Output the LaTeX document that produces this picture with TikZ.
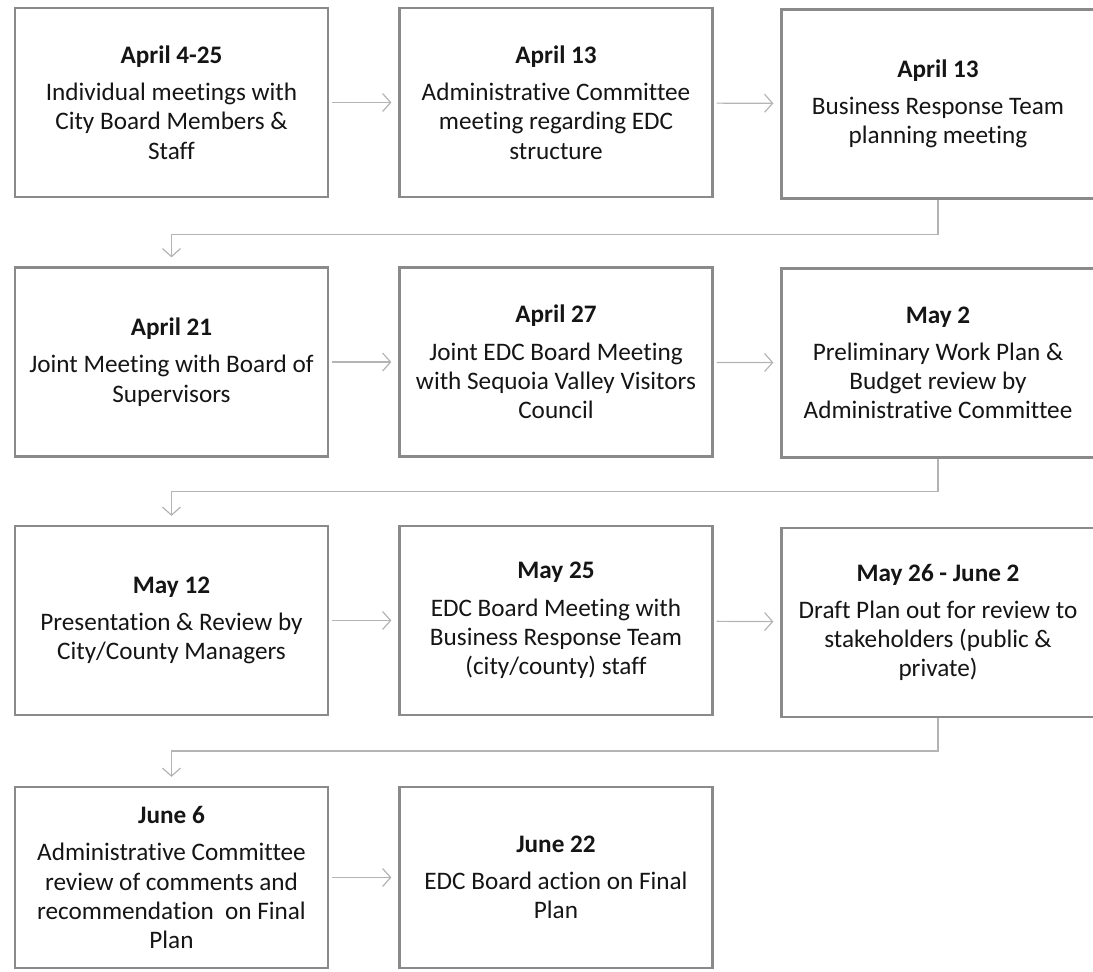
\documentclass[tikz,border=0pt]{standalone}
\usepackage{fontspec}
\setmainfont[Ligatures=NoCommon]{Carlito}
\usetikzlibrary{arrows.meta,positioning,calc}
\def\wLight{0.6pt}
\def\wRegular{1.1pt}
\definecolor{cFrame}{HTML}{8A8A8A}
\definecolor{cLink}{HTML}{B4B4B4}
\definecolor{cInk}{HTML}{151515}
\tikzset{
  plan/.style={every node/.style={align=center}},
  stagebox/.style={draw=cFrame, line width=\wRegular, fill=white, text=cInk,
    minimum width=156.5pt, minimum height=94.5pt, inner sep=2pt,
    font=\fontsize{12.6}{14.6}\selectfont},
  lastrow/.style={stagebox, minimum height=90.5pt},
  link/.style={draw=cLink, line width=\wLight, shorten >=3.5pt, shorten <=1.5pt,
    -{Straight Barb[length=4pt, width=9pt]}},
  turn/.style={draw=cLink, line width=\wLight, shorten >=4.5pt,
    -{Straight Barb[length=4pt, width=9pt]}},
}
\newcommand{\when}[1]{{\bfseries #1}\\[4pt]}

\begin{document}
\begin{tikzpicture}[plan, x=0.5pt, y=-0.5pt]
% Pixel grid of the page (1093 x 972), y runs down. Three columns, four rows, read left to right.
\useasboundingbox (0,0) rectangle (1093,972);
\node[stagebox] (apr4)  at (171.5,102.5) {\when{April 4-25}Individual meetings with\\ City Board Members \&\\ Staff};
\node[stagebox] (apr13a) at (556,102.5)  {\when{April 13}Administrative Committee\\ meeting regarding EDC\\ structure};
\node[stagebox] (apr13b) at (938,104)    {\when{April 13}Business Response Team\\ planning meeting};
\node[stagebox] (apr21) at (171.5,362)   {\when{April 21}Joint Meeting with Board of\\ Supervisors};
\node[stagebox] (apr27) at (556,362)     {\when{April 27}Joint EDC Board Meeting\\ with Sequoia Valley Visitors\\ Council};
\node[stagebox] (may2)  at (938,363)     {\when{May 2}Preliminary Work Plan \&\\ Budget review by\\ Administrative Committee};
\node[stagebox] (may12) at (171.5,620.5) {\when{May 12}Presentation \& Review by\\ City/County Managers};
\node[stagebox] (may25) at (556,620.5)   {\when{May 25}EDC Board Meeting with\\ Business Response Team\\ (city/county) staff};
\node[stagebox] (may26) at (938,622.5)   {\when{May 26 - June 2}Draft Plan out for review to\\ stakeholders (public \&\\ private)};
\node[lastrow]  (jun6)  at (171.5,877.5) {\when{June 6}Administrative Committee\\ review of comments and\\ recommendation\ \ on Final\\ Plan};
\node[lastrow]  (jun22) at (556,877.5)   {\when{June 22}EDC Board action on Final\\ Plan};
% along each row
\draw[link] (apr4)  -- (apr13a);
\draw[link] (apr13a) -- (apr13b);
\draw[link] (apr21) -- (apr27);
\draw[link] (apr27) -- (may2);
\draw[link] (may12) -- (may25);
\draw[link] (may25) -- (may26);
\draw[link] (jun6)  -- (jun22);
% back to the first column
\draw[turn] (apr13b.south) -- ++(0,35) -| (apr21.north);
\draw[turn] (may2.south)   -- ++(0,33) -| (may12.north);
\draw[turn] (may26.south)  -- ++(0,33) -| (jun6.north);
\end{tikzpicture}
\end{document}
